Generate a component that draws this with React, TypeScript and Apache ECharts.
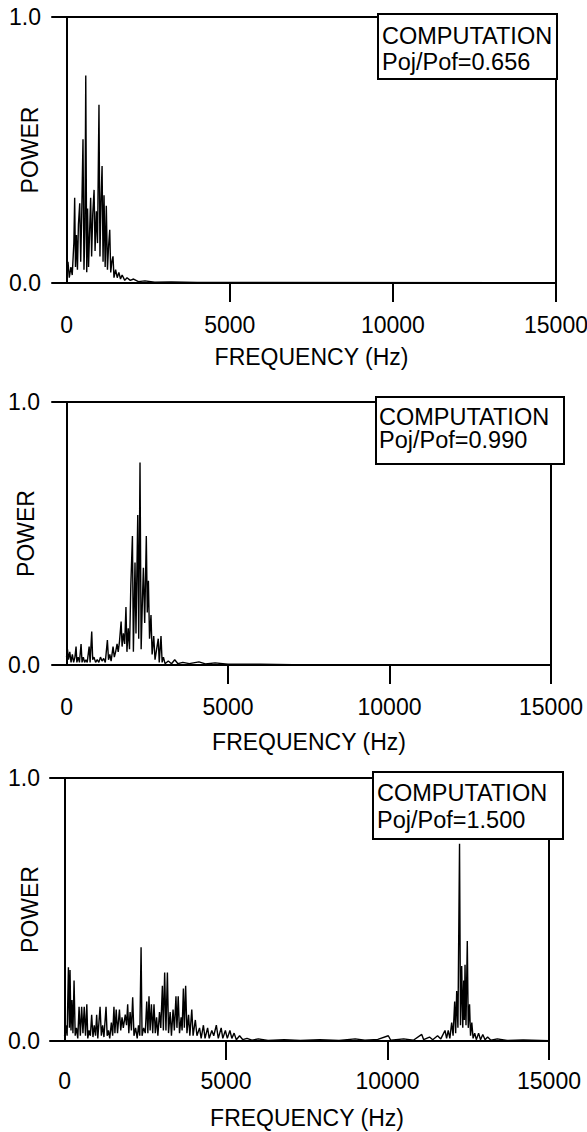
import React, { useEffect, useRef } from "react";
import * as echarts from "echarts";

const FONT = '"Liberation Sans", Arial, Helvetica, sans-serif';

// ---- text / tick data ----
const xName = "FREQUENCY (Hz)";
const yName = "POWER";
const boxTitle = "COMPUTATION";
const ratioLabels = ["Poj/Pof=0.656", "Poj/Pof=0.990", "Poj/Pof=1.500"];
const xTickValues = [5000, 10000, 15000];
const xLabelValues = [0, 5000, 10000, 15000];
const xMin = -450;
const xMax = 15000;

// ---- spectra: [frequency (Hz), normalized power] ----
const spectrum1: [number, number][] = [
  [0, 0.02], [40, 0.08], [80, 0.02], [130, 0.06], [170, 0.03], [220, 0.15], [245, 0.32], [270, 0.06],
  [300, 0.18], [330, 0.05], [360, 0.22], [400, 0.3], [430, 0.08], [460, 0.25], [500, 0.54], [530, 0.05],
  [560, 0.2], [585, 0.78], [615, 0.04], [640, 0.28], [670, 0.06], [700, 0.18], [735, 0.32], [765, 0.1],
  [800, 0.26], [840, 0.35], [870, 0.12], [910, 0.27], [945, 0.15], [990, 0.67], [1020, 0.1], [1050, 0.3],
  [1085, 0.44], [1115, 0.08], [1145, 0.33], [1180, 0.06], [1215, 0.29], [1250, 0.05], [1285, 0.14],
  [1320, 0.2], [1350, 0.04], [1385, 0.08], [1420, 0.1], [1450, 0.02], [1500, 0.05], [1550, 0.02],
  [1600, 0.04], [1650, 0.015], [1700, 0.03], [1780, 0.01], [1850, 0.02], [1950, 0.01], [2050, 0.015],
  [2200, 0.005], [2400, 0.008], [2700, 0.003], [3200, 0.004], [4000, 0.002], [15000, 0.001],
];

const spectrum2: [number, number][] = [
  [0, 0.03], [30, 0.06], [60, 0.02], [100, 0.05], [140, 0.01], [180, 0.04], [220, 0.01], [260, 0.03],
  [295, 0.07], [320, 0.01], [360, 0.03], [400, 0.01], [450, 0.08], [480, 0.01], [520, 0.03], [560, 0.01],
  [600, 0.02], [640, 0.01], [700, 0.07], [730, 0.01], [780, 0.127], [810, 0.02], [850, 0.03], [900, 0.01],
  [950, 0.02], [1000, 0.01], [1050, 0.03], [1100, 0.015], [1150, 0.025], [1200, 0.01], [1265, 0.095],
  [1300, 0.02], [1340, 0.04], [1380, 0.015], [1440, 0.07], [1480, 0.03], [1520, 0.05], [1565, 0.08],
  [1600, 0.05], [1640, 0.09], [1690, 0.165], [1720, 0.07], [1760, 0.12], [1800, 0.08], [1840, 0.22],
  [1870, 0.05], [1910, 0.14], [1950, 0.06], [1990, 0.3], [2040, 0.49], [2070, 0.05], [2120, 0.39],
  [2150, 0.12], [2205, 0.57], [2235, 0.1], [2275, 0.77], [2310, 0.06], [2350, 0.25], [2380, 0.37],
  [2420, 0.16], [2470, 0.49], [2500, 0.2], [2535, 0.32], [2570, 0.1], [2615, 0.19], [2650, 0.04],
  [2700, 0.11], [2740, 0.02], [2790, 0.06], [2840, 0.1], [2870, 0.01], [2925, 0.11], [2960, 0.01],
  [3000, 0.03], [3050, 0.005], [3150, 0.015], [3250, 0.005], [3350, 0.02], [3450, 0.005], [3600, 0.01],
  [3800, 0.005], [4100, 0.012], [4300, 0.004], [4600, 0.008], [5000, 0.003], [6000, 0.003],
  [7000, 0.001], [15000, 0.001],
];

const spectrum3: [number, number][] = [
  [0, 0.02], [40, 0.06], [80, 0.02], [120, 0.28], [150, 0.05], [170, 0.27], [200, 0.04], [230, 0.156],
  [260, 0.03], [295, 0.23], [330, 0.02], [370, 0.05], [410, 0.01], [450, 0.13], [490, 0.02], [530, 0.13],
  [570, 0.03], [610, 0.13], [650, 0.02], [690, 0.14], [720, 0.01], [760, 0.04], [800, 0.02], [840, 0.1],
  [880, 0.015], [920, 0.06], [960, 0.02], [995, 0.1], [1030, 0.01], [1100, 0.13], [1140, 0.02],
  [1180, 0.06], [1220, 0.015], [1285, 0.13], [1320, 0.02], [1360, 0.04], [1400, 0.01], [1450, 0.07],
  [1490, 0.02], [1530, 0.13], [1560, 0.03], [1600, 0.12], [1640, 0.03], [1700, 0.12], [1740, 0.04],
  [1780, 0.09], [1820, 0.05], [1880, 0.1], [1920, 0.06], [1955, 0.14], [1990, 0.03], [2030, 0.11],
  [2070, 0.04], [2110, 0.166], [2150, 0.02], [2200, 0.05], [2250, 0.01], [2290, 0.06], [2330, 0.02],
  [2370, 0.356], [2400, 0.02], [2450, 0.05], [2500, 0.03], [2545, 0.15], [2580, 0.03], [2615, 0.17],
  [2650, 0.04], [2690, 0.14], [2730, 0.03], [2770, 0.14], [2810, 0.03], [2850, 0.09], [2890, 0.02],
  [2940, 0.11], [2980, 0.05], [3030, 0.21], [3060, 0.04], [3100, 0.26], [3140, 0.04], [3185, 0.26],
  [3220, 0.03], [3270, 0.11], [3310, 0.02], [3360, 0.12], [3400, 0.04], [3450, 0.17], [3480, 0.05],
  [3520, 0.17], [3560, 0.03], [3610, 0.09], [3640, 0.04], [3680, 0.2], [3710, 0.05], [3750, 0.21],
  [3790, 0.03], [3840, 0.1], [3880, 0.02], [3940, 0.12], [3980, 0.02], [4050, 0.08], [4100, 0.02],
  [4180, 0.05], [4230, 0.01], [4300, 0.06], [4350, 0.01], [4430, 0.05], [4480, 0.01], [4560, 0.04],
  [4620, 0.02], [4700, 0.06], [4760, 0.01], [4850, 0.05], [4900, 0.01], [4980, 0.04], [5040, 0.01],
  [5120, 0.04], [5180, 0.01], [5250, 0.03], [5320, 0.005], [5420, 0.02], [5520, 0.005], [5650, 0.01],
  [5800, 0.003], [6000, 0.008], [6300, 0.002], [6800, 0.005], [7300, 0.002], [7900, 0.005],
  [8500, 0.002], [9000, 0.008], [9300, 0.003], [9700, 0.006], [10025, 0.02], [10100, 0.003],
  [10500, 0.008], [10800, 0.003], [11060, 0.025], [11120, 0.005], [11300, 0.015], [11400, 0.005],
  [11550, 0.02], [11650, 0.008], [11780, 0.04], [11830, 0.01], [11880, 0.04], [11930, 0.01],
  [11987, 0.07], [12030, 0.02], [12080, 0.15], [12110, 0.03], [12142, 0.19], [12180, 0.05],
  [12230, 0.75], [12260, 0.06], [12297, 0.285], [12330, 0.05], [12360, 0.23], [12380, 0.08],
  [12400, 0.29], [12430, 0.06], [12470, 0.38], [12500, 0.05], [12540, 0.14], [12570, 0.02],
  [12610, 0.07], [12650, 0.01], [12700, 0.03], [12750, 0.005], [12820, 0.03], [12880, 0.005],
  [12950, 0.025], [13020, 0.005], [13100, 0.015], [13200, 0.003], [13400, 0.008], [13700, 0.002],
  [14200, 0.004], [15000, 0.001],
];

const spectra = [spectrum1, spectrum2, spectrum3];

// ---- layout (pixels) ----
const layouts = [
  { grid: { left: 52, top: 17, width: 504, height: 266 }, labelMargin: 30, nameGap: 62, yLabelMargin: 11, yNameGap: 11,
    box: { x: 378, y: 14, w: 179, h: 65 }, t1: { x: 382, y: 35.5 }, t2: { x: 382, y: 62 } },
  { grid: { left: 52, top: 402, width: 499, height: 263 }, labelMargin: 30, nameGap: 65, yLabelMargin: 12, yNameGap: 15,
    box: { x: 376, y: 397, w: 188, h: 67 }, t1: { x: 379, y: 416.5 }, t2: { x: 379, y: 440 } },
  { grid: { left: 50, top: 778, width: 499, height: 263 }, labelMargin: 28, nameGap: 65, yLabelMargin: 10, yNameGap: 9,
    box: { x: 373, y: 772, w: 190, h: 67 }, t1: { x: 377, y: 793 }, t2: { x: 377, y: 819.5 } },
];

const black = "#000";
const textBase = { fontSize: 23, color: black, fontFamily: FONT };

function buildOption() {
  const grid: any[] = [];
  const xAxis: any[] = [];
  const yAxis: any[] = [];
  const series: any[] = [];
  const graphic: any[] = [];

  layouts.forEach((L, i) => {
    grid.push({ ...L.grid, containLabel: false, outerBoundsMode: "none", show: false });
    xAxis.push({
      gridIndex: i, type: "value", position: "bottom", min: xMin, max: xMax,
      axisLine: { show: true, onZero: false, lineStyle: { color: black, width: 2 } },
      axisTick: { show: true, customValues: xTickValues, length: 19, inside: false, lineStyle: { color: black, width: 2 } },
      axisLabel: { show: true, customValues: xLabelValues, margin: L.labelMargin, ...textBase, formatter: (v: number) => String(v) },
      splitLine: { show: false },
      name: xName, nameLocation: "middle", nameGap: L.nameGap, nameMoveOverlap: false,
      nameTextStyle: { ...textBase, padding: [0, 0, 0, 15] },
    });
    xAxis.push({
      gridIndex: i, type: "value", position: "top", min: xMin, max: xMax,
      axisLine: { show: true, onZero: false, lineStyle: { color: black, width: 2 } },
      axisTick: { show: false }, axisLabel: { show: false }, splitLine: { show: false },
    });
    yAxis.push({
      gridIndex: i, type: "value", position: "left", min: 0, max: 1, interval: 1,
      axisLine: { show: true, onZero: true, lineStyle: { color: black, width: 2 } },
      axisTick: { show: false },
      axisLabel: { show: true, margin: L.yLabelMargin, ...textBase, formatter: (v: number) => Number(v).toFixed(1) },
      splitLine: { show: false },
      name: yName, nameLocation: "middle", nameGap: L.yNameGap, nameMoveOverlap: false,
      nameTextStyle: { ...textBase },
    });
    yAxis.push({
      gridIndex: i, type: "value", position: "right", min: 0, max: 1,
      axisLine: { show: true, onZero: false, lineStyle: { color: black, width: 2 } },
      axisTick: { show: false }, axisLabel: { show: false }, splitLine: { show: false },
    });
    series.push({
      type: "line", xAxisIndex: 2 * i, yAxisIndex: 2 * i, data: spectra[i],
      showSymbol: false, symbol: "none", silent: true, clip: true,
      lineStyle: { color: black, width: 1.4 },
    });
    graphic.push({
      type: "rect", z: 100,
      shape: { x: L.box.x, y: L.box.y, width: L.box.w, height: L.box.h },
      style: { fill: "#fff", stroke: black, lineWidth: 2 },
    });
    graphic.push({
      type: "text", z: 101, x: L.t1.x, y: L.t1.y,
      style: { text: boxTitle, fill: black, fontSize: 23.5, lineHeight: 20, fontFamily: FONT, verticalAlign: "middle", align: "left" },
    });
    graphic.push({
      type: "text", z: 101, x: L.t2.x, y: L.t2.y,
      style: { text: ratioLabels[i], fill: black, fontSize: 23.5, lineHeight: 20, fontFamily: FONT, verticalAlign: "middle", align: "left" },
    });
  });

  return { animation: false, backgroundColor: "#fff", grid, xAxis, yAxis, series, graphic };
}

export default function App() {
  const ref = useRef<HTMLDivElement>(null);
  useEffect(() => {
    if (!ref.current) return;
    const chart = echarts.init(ref.current, undefined, { renderer: "svg" });
    chart.setOption(buildOption() as any);
    return () => chart.dispose();
  }, []);
  return (
    <div
      ref={ref}
      style={{ position: "absolute", left: 0, top: 0, width: 587, height: 1132, background: "#fff" }}
    />
  );
}
